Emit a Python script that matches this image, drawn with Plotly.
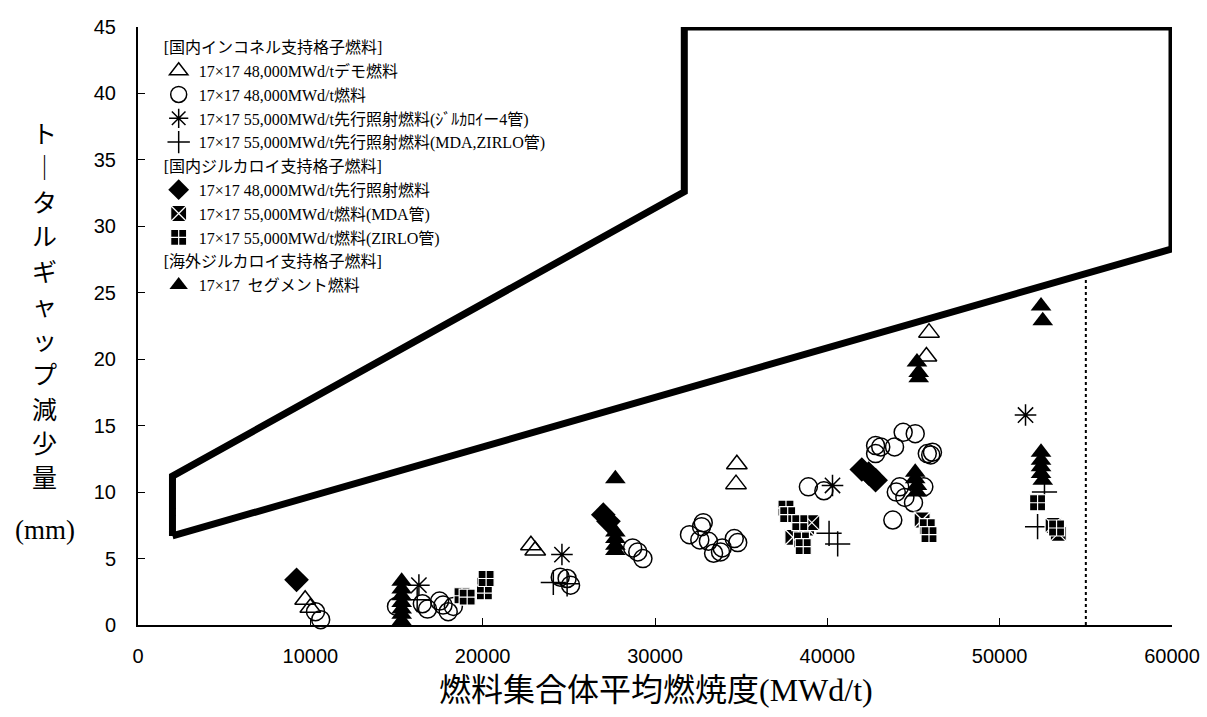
import plotly.graph_objects as go

# ---- data ----
poly_x = [2000, 2000, 31700, 31700, 60000, 60000, 2000]
poly_y = [6.7, 11.2, 32.6, 45, 45, 28.3, 6.7]
limit_x = [55000, 55000]
limit_y = [0, 26.2]

demo_x = [9700, 10000, 22800, 23050, 34700, 34750, 45750, 45900]
demo_y = [1.9, 1.3, 6.0, 5.6, 10.6, 12.1, 20.2, 22.0]

c48_x = [10300, 10600, 15000, 16500, 16800, 17500, 17700, 18000, 18300,
         24500, 24900, 25100, 28700, 29000, 29300,
         32000, 32700, 32800, 32600, 33100, 33400, 33800, 33900, 34600, 34800,
         38900, 39800,
         42800, 42800, 43100, 43900, 44400, 45100, 45800, 46000, 46100,
         44200, 44000, 44500, 45000, 45600, 43800]
c48_y = [1.0, 0.4, 1.4, 1.6, 1.2, 1.8, 1.5, 1.0, 1.4,
         3.6, 3.5, 3.0, 5.8, 5.5, 5.0,
         6.8, 7.4, 7.7, 6.4, 6.3, 5.4, 5.5, 5.8, 6.5, 6.2,
         10.4, 10.1,
         13.5, 12.9, 13.4, 13.4, 14.5, 14.4, 12.9, 12.8, 13.0,
         10.4, 10.0, 9.6, 9.2, 10.4, 7.9]

ast_x = [16300, 24600, 40300, 51500]
ast_y = [3.0, 5.3, 10.5, 15.8]

plus_x = [16200, 24100, 24900, 40100, 40600, 52600, 52200]
plus_y = [1.9, 3.2, 3.1, 6.9, 6.1, 10.0, 7.4]

dia_x = [9200, 27000, 27300, 42000, 42400, 42800]
dia_y = [3.4, 8.3, 7.8, 11.7, 11.4, 10.9]

mda_x = [38000, 38800, 39100, 45500, 53100, 53400]
mda_y = [6.6, 7.3, 7.7, 7.9, 7.5, 6.9]

zir_x = [18800, 19100, 20100, 20100, 20200, 37600, 37700, 38400, 38500, 38600,
         45800, 45900, 52200, 53300]
zir_y = [2.2, 2.1, 2.5, 3.0, 3.5, 8.8, 8.3, 7.7, 6.4, 5.9,
         7.4, 6.8, 9.2, 7.3]

seg_x = [15300, 15300, 15300, 15300, 15300, 15300, 15300,
         27700, 27700, 27700, 27700, 27700,
         45200, 45300, 45300, 45100, 45100, 45200, 45200,
         52400, 52500, 52400, 52400, 52400, 52400, 52500]
seg_y = [3.3, 2.7, 2.2, 1.7, 1.2, 0.8, 0.3,
         11.0, 7.0, 6.5, 6.0, 5.6,
         19.8, 19.0, 18.6, 11.5, 11.0, 10.5, 10.0,
         24.0, 22.9, 13.0, 12.4, 11.9, 11.4, 10.9]

x_ticks = [0, 10000, 20000, 30000, 40000, 50000, 60000]
y_ticks = [0, 5, 10, 15, 20, 25, 30, 35, 40, 45]

g1 = "[国内インコネル支持格子燃料]"
g2 = "[国内ジルカロイ支持格子燃料]"
g3 = "[海外ジルカロイ支持格子燃料]"
names = ["17×17 48,000MWd/tデモ燃料",
         "17×17 48,000MWd/t燃料",
         "17×17 55,000MWd/t先行照射燃料(ｼﾞﾙｶﾛｲー4管)",
         "17×17 55,000MWd/t先行照射燃料(MDA,ZIRLO管)",
         "17×17 48,000MWd/t先行照射燃料",
         "17×17 55,000MWd/t燃料(MDA管)",
         "17×17 55,000MWd/t燃料(ZIRLO管)",
         "17×17  セグメント燃料"]

SERIF = "Liberation Serif, Noto Sans CJK JP, serif"
SANS = "Liberation Sans, Arial, sans-serif"
LEG = 16

fig = go.Figure()

fig.add_trace(go.Scatter(x=poly_x, y=poly_y, mode="lines", showlegend=False,
                         line=dict(color="black", width=7), hoverinfo="skip"))
fig.add_trace(go.Scatter(x=limit_x, y=limit_y, mode="lines", showlegend=False,
                         line=dict(color="black", width=2, dash="dot"), hoverinfo="skip"))

def add(x, y, name, group, gtitle, symbol, size, color="black", lc="black", lw=1.5):
    fig.add_trace(go.Scatter(
        x=x, y=y, mode="markers", name=name, legendgroup=group,
        legendgrouptitle=dict(text=gtitle, font=dict(family=SERIF, size=LEG, color="black")),
        marker=dict(symbol=symbol, size=size, color=color,
                    line=dict(color=lc, width=lw)),
        cliponaxis=False))

add(demo_x, demo_y, names[0], "g1", g1, "triangle-up-open", 18)
add(c48_x, c48_y, names[1], "g1", g1, "circle-open", 18)
add(ast_x, ast_y, names[2], "g1", g1, "asterisk-open", 18)
add(plus_x, plus_y, names[3], "g1", g1, "cross-thin-open", 18)
add(dia_x, dia_y, names[4], "g2", g2, "diamond", 19, lw=0)
add(mda_x, mda_y, names[5], "g2", g2, "square-x", 16, color="black", lc="white", lw=1.2)
add(zir_x, zir_y, names[6], "g2", g2, "square-cross", 16, color="black", lc="white", lw=1.2)
add(seg_x, seg_y, names[7], "g3", g3, "triangle-up", 18, lw=0)

fig.update_layout(
    template="none",
    width=1207, height=717,
    margin=dict(l=138, r=35, t=27, b=92, autoexpand=False),
    paper_bgcolor="white", plot_bgcolor="white",
    showlegend=True,
    legend=dict(x=0.02, y=0.995, xanchor="left", yanchor="top",
                bgcolor="rgba(0,0,0,0)", borderwidth=0,
                font=dict(family=SERIF, size=LEG, color="black"),
                tracegroupgap=0, traceorder="grouped"),
    xaxis=dict(range=[0, 60000], tickvals=x_ticks, ticktext=[str(v) for v in x_ticks],
               showgrid=False, zeroline=False, showline=True, linecolor="black",
               linewidth=2, ticks="inside", ticklen=7, tickcolor="black",
               tickfont=dict(family=SANS, size=20, color="black"),
               ticklabelstandoff=12, automargin=False),
    yaxis=dict(range=[0, 45], tickvals=y_ticks, ticktext=[str(v) for v in y_ticks],
               showgrid=False, zeroline=False, showline=True, linecolor="black",
               linewidth=2, ticks="inside", ticklen=7, tickcolor="black",
               tickfont=dict(family=SANS, size=20, color="black"),
               ticklabelstandoff=16, automargin=False),
)

# axis titles
fig.add_annotation(text="燃料集合体平均燃焼度(MWd/t)", xref="paper", yref="paper",
                   x=(656 - 138) / 1034, y=(625 - 690) / 598,
                   xanchor="center", yanchor="middle", showarrow=False,
                   font=dict(family=SERIF, size=32, color="black"))

ychars = ["ト", "｜", "タ", "ル", "ギ", "ャ", "ッ", "プ", "減", "少", "量"]
for i, ch in enumerate(ychars):
    py = 134 + i * 34.5
    fig.add_annotation(text=ch, xref="paper", yref="paper",
                       x=(44 - 138) / 1034, y=(625 - py) / 598,
                       xanchor="center", yanchor="middle", showarrow=False,
                       font=dict(family=SERIF, size=25, color="black"))
fig.add_annotation(text="(mm)", xref="paper", yref="paper",
                   x=(45 - 138) / 1034, y=(625 - 530) / 598,
                   xanchor="center", yanchor="middle", showarrow=False,
                   font=dict(family=SERIF, size=27, color="black"))

fig.write_html("out.html", config={"displayModeBar": False},
               post_script="document.body.style.margin='0';document.body.style.padding='0';")
